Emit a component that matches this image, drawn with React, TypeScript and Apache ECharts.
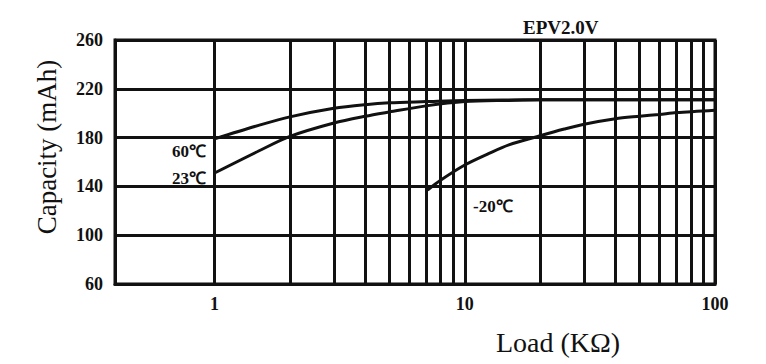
import React, { useEffect, useRef } from "react";
import * as echarts from "echarts";

const loads60 = [1, 1.5, 2, 3, 4, 5, 7, 10, 20, 50, 100];
const cap60 = [179, 190, 197, 204, 207, 208.5, 209.5, 210.5, 211, 211, 211];

const loads23 = [1, 1.5, 2, 3, 4, 5, 7, 10, 15, 20, 50, 100];
const cap23 = [151, 169, 181, 192, 197.5, 201, 206, 209.5, 210.5, 211, 211, 211];

const loadsM20 = [7.1, 8, 10, 12.5, 15, 20, 25, 30, 40, 50, 60, 70, 100];
const capM20 = [137, 145, 157.5, 167, 174, 181.5, 187, 191, 195.5, 197.5, 199, 200.5, 202.5];

const minorGrid = [2, 3, 4, 5, 6, 7, 8, 9, 20, 30, 40, 50, 60, 70, 80, 90];
const majorLabels = [1, 10, 100];

const FONT = "'Liberation Serif', 'Times New Roman', serif";

const pair = (xs: number[], ys: number[]) => xs.map((x, i) => [x, ys[i]]);

export default function App() {
  const ref = useRef<HTMLDivElement>(null);
  useEffect(() => {
    if (!ref.current) return;
    const chart = echarts.init(ref.current, undefined, { renderer: "svg" });
    const lineStyle = { color: "#111", width: 3 };
    chart.setOption({
      animation: false,
      backgroundColor: "#fff",
      title: {
        text: "EPV2.0V",
        left: 518,
        top: 13,
        textStyle: { fontFamily: FONT, fontWeight: "bold", fontSize: 19, color: "#111" },
      },
      grid: {
        left: 115,
        right: 51,
        top: 40,
        bottom: 80,
        show: true,
        borderColor: "#111",
        borderWidth: 3,
      },
      xAxis: {
        type: "log",
        logBase: 10,
        min: 0.4,
        max: 100,
        axisLine: { show: true, lineStyle: { color: "#111", width: 3 } },
        axisTick: { show: false },
        splitLine: { show: true, lineStyle: { color: "#111", width: 3 } },
        axisLabel: {
          margin: 11,
          fontFamily: FONT,
          fontWeight: "bold",
          fontSize: 18,
          color: "#111",
          formatter: (v: number) => {
            const l = Math.log10(v);
            const r = Math.round(l);
            if (Math.abs(l - r) < 1e-6 && majorLabels.includes(Math.pow(10, r))) {
              return String(Math.pow(10, r));
            }
            return "";
          },
        },
      },
      yAxis: {
        type: "value",
        min: 60,
        max: 260,
        interval: 40,
        axisLine: { show: true, lineStyle: { color: "#111", width: 3 } },
        axisTick: { show: false },
        splitLine: { show: true, lineStyle: { color: "#111", width: 3 } },
        axisLabel: {
          margin: 12,
          fontFamily: FONT,
          fontWeight: "bold",
          fontSize: 18,
          color: "#111",
        },
      },
      graphic: [
        {
          type: "text",
          x: 47,
          y: 147,
          rotation: Math.PI / 2,
          style: {
            text: "Capacity (mAh)",
            fontFamily: FONT,
            fontSize: 27,
            fill: "#111",
            align: "center",
            verticalAlign: "middle",
          },
        },
        {
          type: "text",
          x: 558,
          y: 342,
          style: {
            text: "Load (KΩ)",
            fontFamily: FONT,
            fontSize: 28,
            fill: "#111",
            align: "center",
            verticalAlign: "middle",
          },
        },
        {
          type: "text",
          x: 206,
          y: 151,
          style: {
            text: "60℃",
            fontFamily: FONT,
            fontWeight: "bold",
            fontSize: 17,
            fill: "#111",
            align: "right",
            verticalAlign: "middle",
          },
        },
        {
          type: "text",
          x: 206,
          y: 178,
          style: {
            text: "23℃",
            fontFamily: FONT,
            fontWeight: "bold",
            fontSize: 17,
            fill: "#111",
            align: "right",
            verticalAlign: "middle",
          },
        },
        {
          type: "text",
          x: 473,
          y: 206,
          style: {
            text: "-20℃",
            fontFamily: FONT,
            fontWeight: "bold",
            fontSize: 17,
            fill: "#111",
            align: "left",
            verticalAlign: "middle",
          },
        },
      ],
      series: [
        {
          name: "60℃",
          type: "line",
          data: pair(loads60, cap60),
          smooth: 0.3,
          showSymbol: false,
          lineStyle,
          markLine: {
            silent: true,
            symbol: ["none", "none"],
            label: { show: false },
            lineStyle: { color: "#111", width: 3, type: "solid" },
            data: minorGrid.map((v) => ({ xAxis: v })),
          },
        },
        {
          name: "23℃",
          type: "line",
          data: pair(loads23, cap23),
          smooth: 0.3,
          showSymbol: false,
          lineStyle,
        },
        {
          name: "-20℃",
          type: "line",
          data: pair(loadsM20, capM20),
          smooth: 0.3,
          showSymbol: false,
          lineStyle,
        },
      ],
    });
    return () => chart.dispose();
  }, []);
  return (
    <div
      ref={ref}
      style={{ position: "fixed", left: 0, top: 0, width: 766, height: 364, background: "#fff" }}
    />
  );
}
